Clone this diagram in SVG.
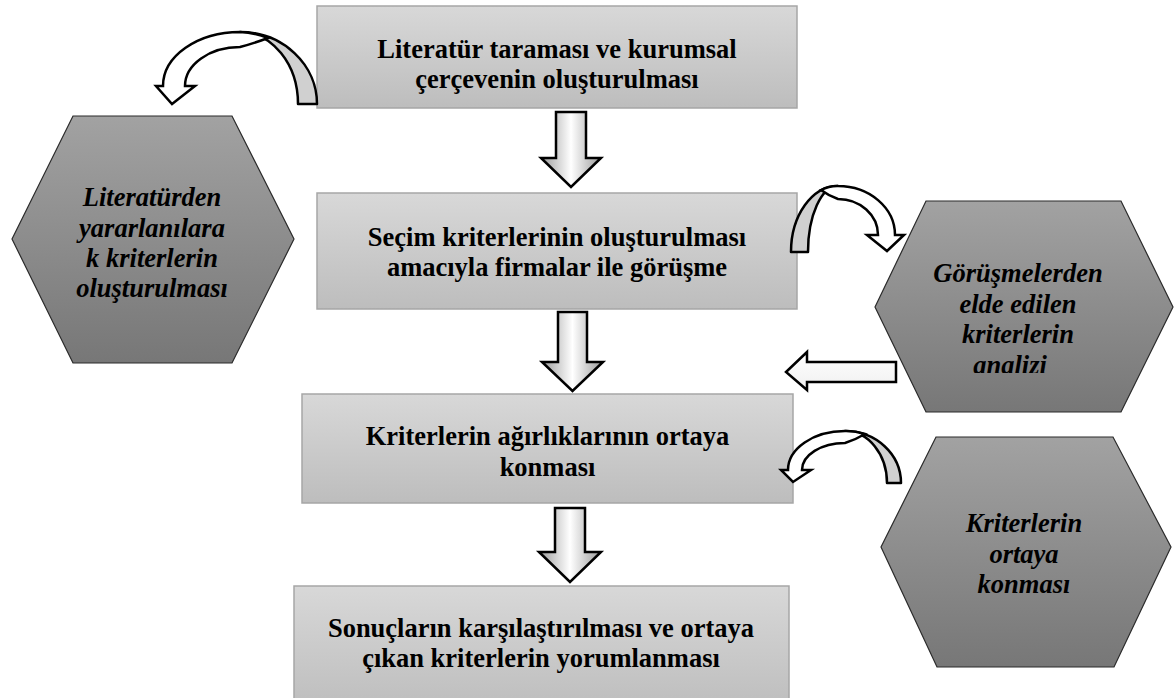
<svg xmlns="http://www.w3.org/2000/svg" width="1174" height="698" viewBox="0 0 1174 698">
<defs>
<linearGradient id="boxg" x1="0" y1="0" x2="0" y2="1">
<stop offset="0" stop-color="#d8d8d8"/>
<stop offset="1" stop-color="#bdbdbd"/>
</linearGradient>
<linearGradient id="hexg" x1="0" y1="0" x2="0" y2="1">
<stop offset="0" stop-color="#a2a2a2"/>
<stop offset="1" stop-color="#777777"/>
</linearGradient>
<linearGradient id="arrg" x1="0" y1="0" x2="1" y2="0">
<stop offset="0" stop-color="#9a9a9a"/>
<stop offset="0.5" stop-color="#ffffff"/>
<stop offset="1" stop-color="#9a9a9a"/>
</linearGradient>
<linearGradient id="larrg" x1="0" y1="0" x2="0" y2="1">
<stop offset="0" stop-color="#ffffff"/>
<stop offset="1" stop-color="#f0f0f0"/>
</linearGradient>
<clipPath id="clipH2"><rect x="860" y="190" width="314" height="183"/></clipPath>
</defs>
<style>
.box{fill:url(#boxg);stroke:#a6a6a6;stroke-width:1.5}
.hex{fill:url(#hexg);stroke:#2a2a2a;stroke-width:1.2}
.darr{fill:url(#arrg);stroke:#000;stroke-width:2.5;stroke-linejoin:miter}
.larr{fill:url(#larrg);stroke:#000;stroke-width:2.5}
.cback{fill:#d0d0d0;stroke:#000;stroke-width:2.5;stroke-linejoin:round}
.cfront{fill:#ffffff;stroke:#000;stroke-width:2.5;stroke-linejoin:miter}
</style>
<rect x="0" y="0" width="1174" height="698" fill="#ffffff"/>

<g font-family="Liberation Serif" font-weight="bold" font-size="26.5" fill="#000" text-anchor="middle">
<g id="box1">
<rect class="box" x="317" y="6" width="480" height="102"/>
<text x="557" y="58">Literatür taraması ve kurumsal</text>
<text x="557" y="88">çerçevenin oluşturulması</text>
</g>
<g id="box2">
<rect class="box" x="317" y="193" width="480" height="116"/>
<text x="557" y="246">Seçim kriterlerinin oluşturulması</text>
<text x="557" y="276">amacıyla firmalar ile görüşme</text>
</g>
<g id="box3">
<rect class="box" x="302" y="394" width="491" height="109"/>
<text x="547.5" y="445">Kriterlerin ağırlıklarının ortaya</text>
<text x="547.5" y="476">konması</text>
</g>
<g id="box4">
<rect class="box" x="294" y="586" width="495" height="125"/>
<text x="541" y="637">Sonuçların karşılaştırılması ve ortaya</text>
<text x="541" y="667">çıkan kriterlerin yorumlanması</text>
</g>

<g id="hex1" font-style="italic">
<polygon class="hex" points="73,116 232,116 294,239 232,363 73,363 12,239"/>
<text x="152" y="206">Literatürden</text>
<text x="152" y="237">yararlanılara</text>
<text x="152" y="267">k kriterlerin</text>
<text x="152" y="297">oluşturulması</text>
</g>
<g id="hex2" font-style="italic">
<polygon class="hex" points="926,201 1121,201 1173,307 1121,412 926,412 875,307"/>
<g clip-path="url(#clipH2)">
<text x="1018" y="282">Görüşmelerden</text>
<text x="1018" y="313">elde edilen</text>
<text x="1018" y="343">kriterlerin</text>
<text x="1010" y="374">analizi</text>
</g>
</g>
<g id="hex3" font-style="italic">
<polygon class="hex" points="936,437 1113,437 1171,547 1114,667 937,667 881,547"/>
<text x="1024" y="532">Kriterlerin</text>
<text x="1024" y="563">ortaya</text>
<text x="1024" y="593">konması</text>
</g>
</g>

<g id="connectors">
<polygon class="darr" points="556,112 586,112 586,158 601,158 571,187 541,158 556,158"/>
<polygon class="darr" points="558,312 587,312 587,362 603,362 572.5,391 542,362 558,362"/>
<polygon class="darr" points="555,508 585,508 585,552 601,552 570,582 539,552 555,552"/>
<polygon class="larr" points="896,362 896,382 807,382 807,390 786,372 807,352 807,362"/>
<g id="curve1">
<path class="cback" d="M317,104 A77 72 0 0 0 240,32 A58 72 0 0 1 298,104 Z"/>
<path class="cfront" d="M163,86 A77 54 0 0 1 240,32 A77 72 0 0 1 268,38 Q252,44 240,47 A55 39 0 0 0 185,86 L195,86 L172,104 L156,86 Z"/>
</g>
<g id="curve2">
<path class="cback" d="M791,252 A47 66 0 0 1 838,186 A30 66 0 0 0 808,252 Z"/>
<path class="cfront" d="M895,235 A57 49 0 0 0 838,186 A47 66 0 0 0 821,190 Q829,196 838,199 A40 36 0 0 1 878,235 L867,235 L887,251 L904,235 Z"/>
</g>
<g id="curve3">
<path class="cback" d="M901,483 A56 52 0 0 0 845,431 A42 52 0 0 1 887,483 Z"/>
<path class="cfront" d="M788,470 A57 39 0 0 1 845,431 A56 52 0 0 1 865,434 Q855,440 845,443 A43 27 0 0 0 802,470 L811,470 L793,482 L781,470 Z"/>
</g>
</g>
</svg>
